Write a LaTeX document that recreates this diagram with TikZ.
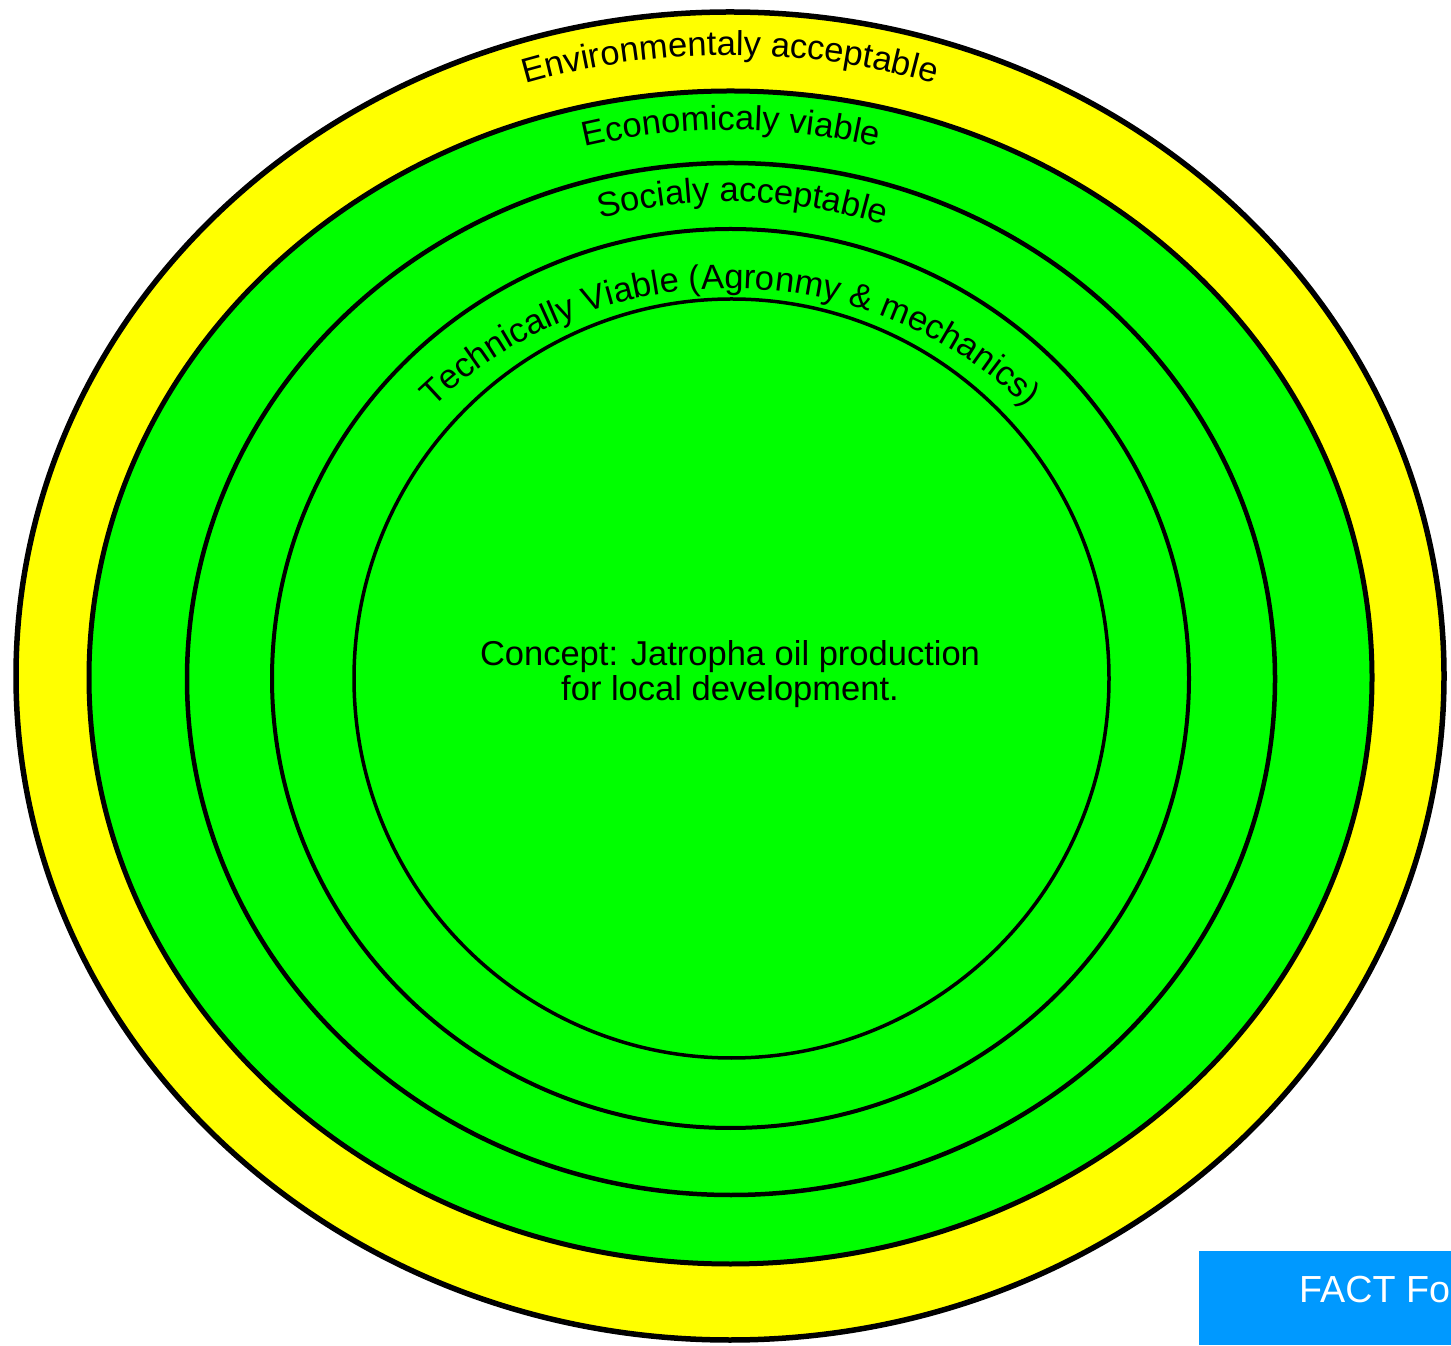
\documentclass[tikz,border=0pt]{standalone}
\usepackage{fontspec}
\setmainfont{Liberation Sans}
\usetikzlibrary{decorations.text}
\definecolor{ringyellow}{RGB}{255,255,0}
\definecolor{ringgreen}{RGB}{0,255,0}
\definecolor{factblue}{RGB}{0,153,255}
\newcommand{\lblfont}{\fontsize{34.5}{35}\selectfont}
\begin{document}
\begin{tikzpicture}[x=1pt,y=1pt,
  ring/.style={draw=black},
  arclabel/.style={decorate, decoration={text along path, text align=center, text color=black}}]
\clip (0,0) rectangle (1451,1345);
\fill[white] (0,0) rectangle (1451,1345);
% rings
\draw[ring, fill=ringyellow, line width=5.5] (730,669) ellipse [x radius=714, y radius=664];
\draw[ring, fill=ringgreen, line width=5] (730.5,667.5) ellipse [x radius=641.5, y radius=586.5];
\draw[ring, line width=4.5] (731,666) ellipse [x radius=544, y radius=516];
\draw[ring, line width=4] (730.5,666.5) ellipse [x radius=458.5, y radius=449.5];
\draw[ring, line width=3.5] (731.5,666.5) ellipse [x radius=377.5, y radius=379.5];
% labels along rings
\path[arclabel, decoration={text={|\lblfont|Environmentaly acceptable}}]
  (730-674.5,669) arc[start angle=180, end angle=0, x radius=674.5, y radius=621];
\path[arclabel, decoration={text={|\lblfont|Economicaly viable}}]
  (731-589,667) arc[start angle=180, end angle=0, x radius=589, y radius=548];
\path[arclabel, decoration={text={|\lblfont|Socialy acceptable}}]
  (731,666.5) ++(178.6:493.5 and 477) arc[start angle=178.6, end angle=-1.4, x radius=493.5, y radius=477];
\path[arclabel, decoration={text={|\lblfont|Technically Viable (Agronmy {\&} mechanics)}}]
  (730-413,666.5) arc[start angle=180, end angle=0, x radius=413, y radius=390];
% centre text
\node[align=center, font=\lblfont, inner sep=0] (concept) at (730,671)
  {Concept: Jatropha oil production\\for local development.};
% blue box
\fill[factblue] (1199,0) rectangle (1451,94);
\node[anchor=base west, text=white, font=\fontsize{37.7}{40}\selectfont, inner sep=0] (facttext) at (1299,43) {FACT Fo};
\end{tikzpicture}
\end{document}
